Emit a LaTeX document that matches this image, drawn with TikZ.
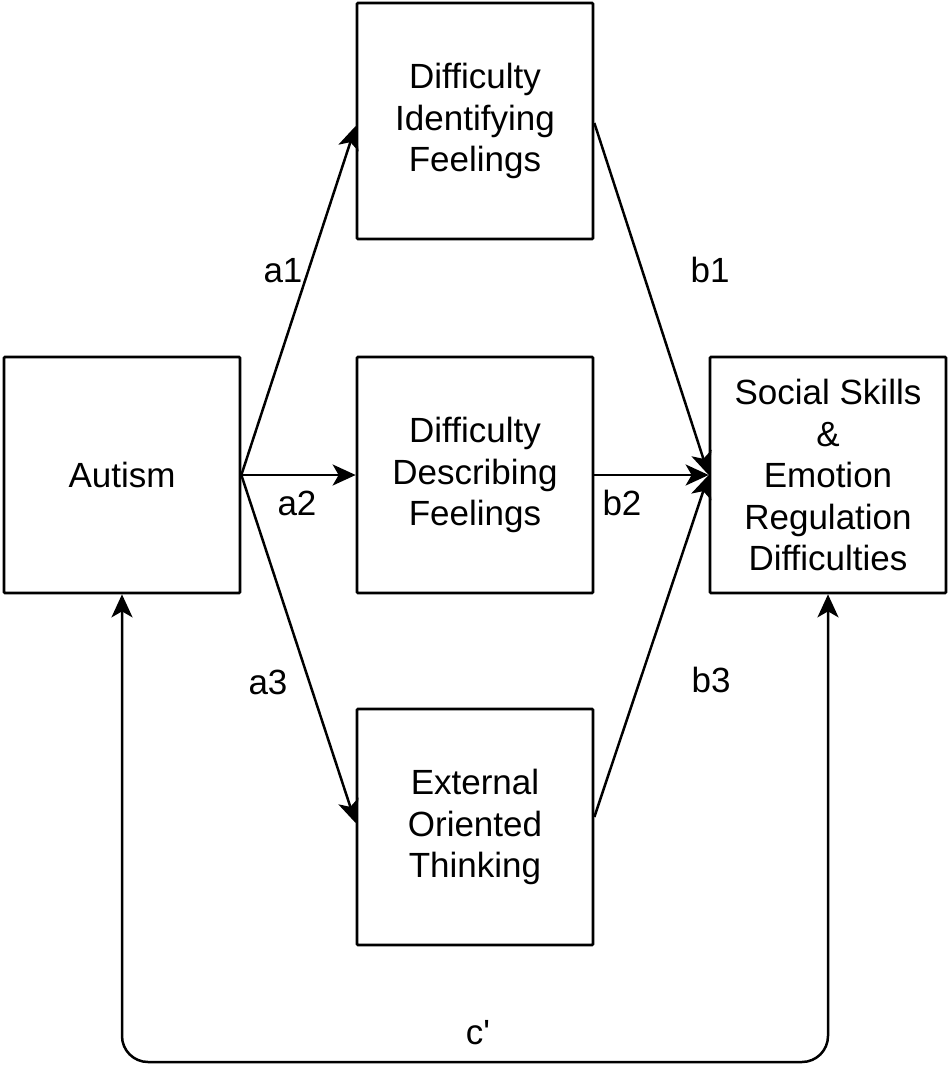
\documentclass[tikz,border=0pt]{standalone}
\usepackage{fontspec}
\setmainfont[Ligatures=TeXOff]{Liberation Sans}
\usetikzlibrary{arrows.meta}
\tikzset{
  box/.style={draw=black, line width=2.7pt, minimum width=236pt, minimum height=236pt, inner sep=0pt, align=center, font=\fontsize{35}{41.5}\selectfont, rounded corners=1pt},
  lab/.style={font=\fontsize{35}{40}\selectfont, inner sep=0pt},
  arr/.style={line width=2.5pt, -{Stealth[length=23pt,width=21pt,inset=6pt]}},
}
\begin{document}
\begin{tikzpicture}[x=1pt,y=-1pt]
\useasboundingbox (0,0) rectangle (950,1088);
\node[box] (A) at (122,475) {Autism};
\node[box] (D1) at (475,121) {Difficulty\\Identifying\\Feelings};
\node[box] (D2) at (475,475) {Difficulty\\Describing\\Feelings};
\node[box] (D3) at (475,827) {External\\Oriented\\Thinking};
\node[box] (S) at (828,475) {Social Skills\\\&\\Emotion\\Regulation\\Difficulties};
\draw[arr] (A.east) -- ([yshift=-5pt]D1.west);
\draw[arr] (A.east) -- (D2.west);
\draw[arr] (A.east) -- ([yshift=4pt]D3.west);
\draw[arr] ([yshift=-2pt]D1.east) -- (S.west);
\draw[arr] (D2.east) -- (S.west);
\draw[arr] ([yshift=10pt]D3.east) -- (S.west);
\coordinate (cl) at (122,1062);
\coordinate (cr) at (828,1062);
\draw[line width=2.5pt, {Stealth[length=23pt,width=21pt,inset=6pt]}-{Stealth[length=23pt,width=21pt,inset=6pt]}, rounded corners=26pt] (A.south) -- (cl) -- (cr) -- (S.south);
\node[lab] (la1) at (283,271) {a1};
\node[lab] (la2) at (297,503) {a2};
\node[lab] (la3) at (268,682) {a3};
\node[lab] (lb1) at (710,270) {b1};
\node[lab] (lb2) at (622,503) {b2};
\node[lab] (lb3) at (711,680) {b3};
\node[lab] (lc) at (478,1033) {c'};
\end{tikzpicture}
\end{document}
